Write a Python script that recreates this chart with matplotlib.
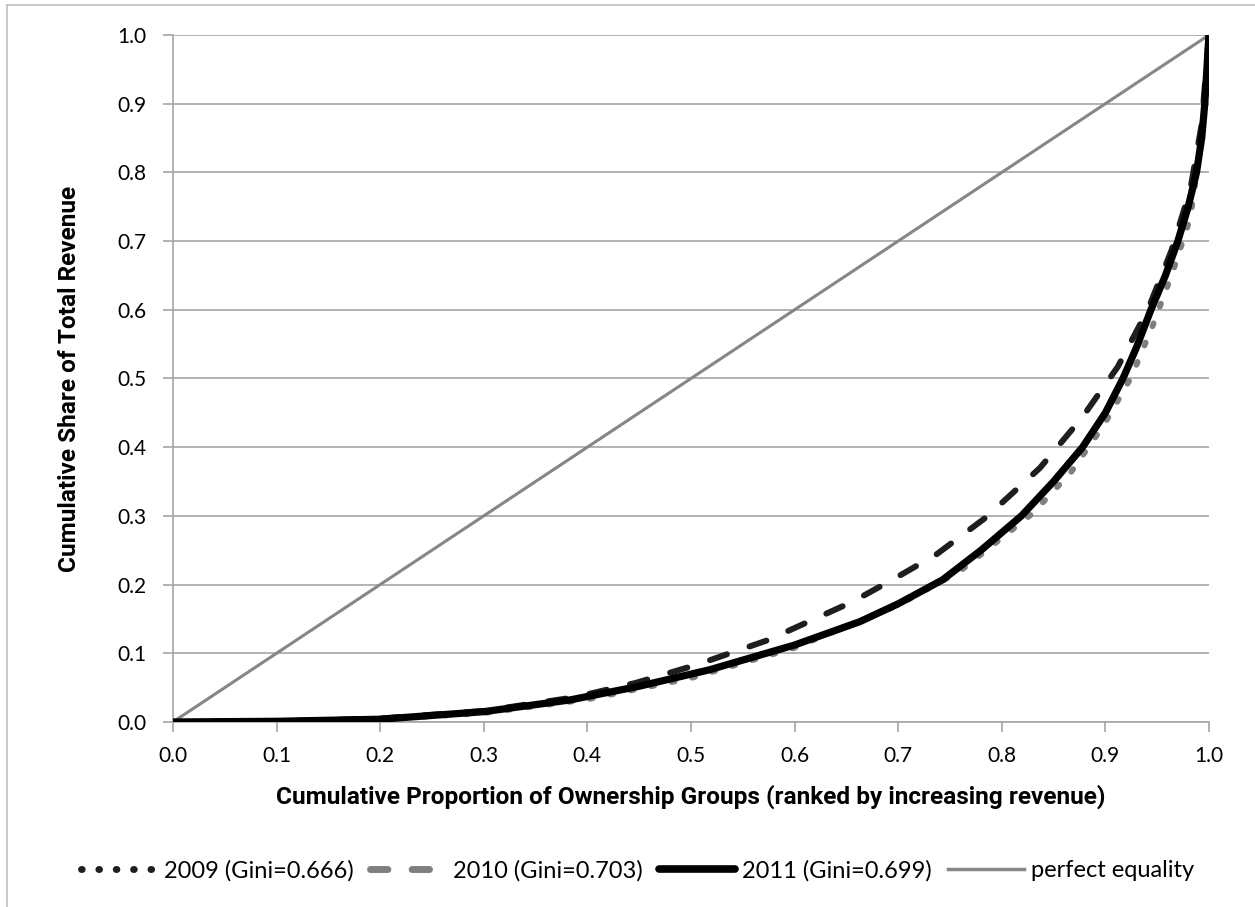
import matplotlib

matplotlib.use("Agg")
import matplotlib.pyplot as plt
from matplotlib.lines import Line2D

# Lorenz curves (x = cumulative share of groups)
x_2009 = [0, 0.1, 0.2, 0.3, 0.388, 0.447, 0.505, 0.574, 0.656, 0.698, 0.737,
          0.785, 0.837, 0.878, 0.912, 0.941, 0.964, 0.982, 0.993, 1.0]
y_2009 = [0, 0.001, 0.005, 0.016, 0.036, 0.057, 0.083, 0.119, 0.175, 0.21, 0.244,
          0.298, 0.37, 0.444, 0.517, 0.60, 0.687, 0.775, 0.87, 1.0]

x_2010 = [0, 0.1, 0.2, 0.3, 0.4, 0.5, 0.6, 0.7, 0.76, 0.83, 0.867, 0.898,
          0.925, 0.946, 0.965, 0.982, 0.993, 1.0]
y_2010 = [0, 0.001, 0.004, 0.013, 0.033, 0.064, 0.108, 0.17, 0.22, 0.304, 0.364,
          0.431, 0.502, 0.578, 0.655, 0.734, 0.85, 1.0]

x_2011 = [0, 0.1, 0.2, 0.3, 0.383, 0.45, 0.518, 0.6, 0.663, 0.7, 0.743, 0.78,
          0.819, 0.85, 0.878, 0.9, 0.917, 0.93, 0.944, 0.958, 0.97, 0.98, 0.988,
          0.993, 0.996, 0.998, 1.0]
y_2011 = [0, 0.001, 0.004, 0.015, 0.032, 0.052, 0.076, 0.112, 0.146, 0.172, 0.207,
          0.25, 0.30, 0.35, 0.40, 0.45, 0.50, 0.545, 0.60, 0.65, 0.70, 0.75, 0.80,
          0.85, 0.90, 0.95, 1.0]

equality = [0, 1]

labels = ["2009 (Gini=0.666)", "2010 (Gini=0.703)", "2011 (Gini=0.699)",
          "perfect equality"]
ticks = [round(0.1 * i, 1) for i in range(11)]

GRID = "#a6a6a6"
EQ = "#868686"
FONT = ["Lato", "DejaVu Sans"]
BOLD_FONT = ["Roboto", "DejaVu Sans"]

fig = plt.figure(figsize=(12.55, 9.07), dpi=100)
ax = fig.add_axes([0.1378, 0.204, 0.8255, 0.7574])

ax.plot(x_2009, y_2009, color="#1e1e1e", lw=4.3, ls=(0, (3, 4)),
        dash_capstyle="round", zorder=3)
ax.plot(x_2010, y_2010, color="#7f7f7f", lw=4.3, ls=(0, (0.5, 3)),
        dash_capstyle="round", zorder=3)
ax.plot(x_2011, y_2011, color="black", lw=5.2, solid_capstyle="round",
        solid_joinstyle="round", zorder=4)
ax.plot(equality, equality, color=EQ, lw=2.2, zorder=2)

ax.set_xlim(0, 1)
ax.set_ylim(0, 1)
ax.set_xticks(ticks)
ax.set_yticks(ticks)
ax.set_xticklabels([f"{t:.1f}" for t in ticks], family=FONT)
ax.set_yticklabels([f"{t:.1f}" for t in ticks], family=FONT)
ax.tick_params(axis="both", labelsize=15, color=GRID, length=7, width=1.2,
               labelcolor="black")
ax.tick_params(axis="x", pad=10)
ax.tick_params(axis="y", pad=12)
ax.yaxis.grid(True, color=GRID, lw=1.2)
ax.set_axisbelow(True)
for side in ("top", "right"):
    ax.spines[side].set_visible(False)
for side in ("left", "bottom"):
    ax.spines[side].set_color(GRID)
    ax.spines[side].set_linewidth(1.2)

ax.set_xlabel("Cumulative Proportion of Ownership Groups (ranked by increasing revenue)",
              fontsize=17.6, fontweight="bold", family=BOLD_FONT, labelpad=14)
ax.set_ylabel("Cumulative Share of Total Revenue", fontsize=17.6, fontweight="bold",
              family=BOLD_FONT, labelpad=26)

handles = [
    Line2D([], [], color="#1e1e1e", lw=5, ls=(0, (0.1, 2.4)), dash_capstyle="round"),
    Line2D([], [], color="#7f7f7f", lw=5, ls=(0, (2.5, 3.5)), dash_capstyle="round"),
    Line2D([], [], color="black", lw=5.5, solid_capstyle="round"),
    Line2D([], [], color=EQ, lw=2.5),
]
fig.legend(handles, labels, loc="center", bbox_to_anchor=(0.508, 0.04), ncol=4,
           frameon=False, handlelength=3.2, handletextpad=0.3, columnspacing=0.7,
           prop={"family": FONT, "size": 17})

# outer chart border (left and top edges visible in the reference)
fig.add_artist(Line2D([7 / 1255, 7 / 1255], [0, 1 - 5 / 907], color="#bfbfbf",
                      lw=1.2, transform=fig.transFigure))
fig.add_artist(Line2D([7 / 1255, 1], [1 - 5 / 907, 1 - 5 / 907], color="#bfbfbf",
                      lw=1.2, transform=fig.transFigure))

fig.savefig("out.png", dpi=100)
